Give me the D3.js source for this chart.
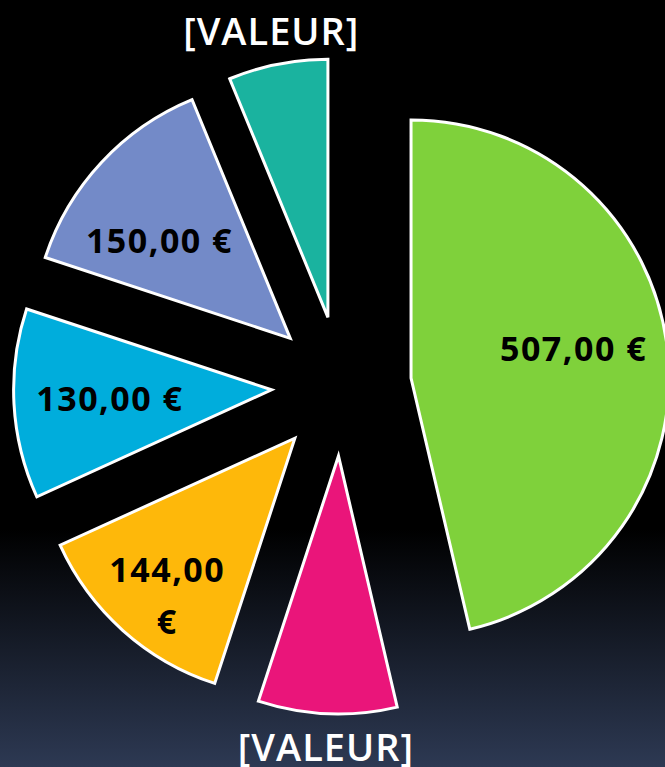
<!DOCTYPE html>
<html>
<head>
<meta charset="utf-8">
<script src="https://cdn.jsdelivr.net/npm/d3@7"></script>
<style>
  html, body { margin: 0; padding: 0; background: #000; }
  #chart { width: 665px; height: 767px; }
  .slice-label { font-family: "Open Sans", sans-serif; font-weight: 700; fill: #000; letter-spacing: 1.5px; }
  .outer-label { font-family: "Open Sans", sans-serif; font-weight: 600; fill: #fff; letter-spacing: 1px; }
</style>
</head>
<body>
<div id="chart"></div>
<script>

// slice data, clockwise from 12 o'clock
var categories = ['A', 'B', 'C', 'D', 'E', 'F'];
var values = [507, 95, 144, 130, 150, 68];
var labels = ['507,00 €', '[VALEUR]', '144,00|€', '130,00 €', '150,00 €', '[VALEUR]'];
var outside = [false, true, false, false, false, true];
var colors = ['#7fd13b', '#ea157a', '#feb80a', '#00addc', '#738ac8', '#1ab39f'];

var width = 665,
    height = 767;

var cx = 341.5, cy = 386;
var radius = 258,
    explode = 70;

var svg = d3.select('#chart')
  .append('svg')
    .attr('width', width)
    .attr('height', height);

// background
var grad = svg.append('defs').append('linearGradient')
    .attr('id', 'bg')
    .attr('x1', 0).attr('y1', 0).attr('x2', 0).attr('y2', 1);
grad.append('stop').attr('offset', '0%').attr('stop-color', '#000');
grad.append('stop').attr('offset', '69%').attr('stop-color', '#000');
grad.append('stop').attr('offset', '100%').attr('stop-color', '#2d3953');

svg.append('rect')
    .attr('width', width)
    .attr('height', height)
    .style('fill', 'url(#bg)');

var pie = d3.pie().sort(null).value(function(d) { return d; });
var arcs = pie(values);

var arc = d3.arc().innerRadius(0).outerRadius(radius);

// where each slice is pushed to
function offset(d, r) {
  var a = (d.startAngle + d.endAngle) / 2;
  return [Math.sin(a) * r, -Math.cos(a) * r];
}

var g = svg.append('g')
    .attr('transform', 'translate(' + cx + ',' + cy + ')');

var slice = g.selectAll('.slice')
    .data(arcs)
    .enter()
    .append('g')
    .attr('class', 'slice')
    .attr('transform', function(d) { return 'translate(' + offset(d, explode) + ')'; });

slice.append('path')
    .attr('d', arc)
    .style('fill', function(d, i) { return colors[i]; })
    .style('stroke', '#fff')
    .style('stroke-width', 3)
    .style('stroke-linejoin', 'miter');

// labels inside the slices
var labelR = [165, 0, 203, 162, 163, 0];
var labelTurn = [-0.06, 0, -0.05, 0, -0.11, 0];

slice.filter(function(d, i) { return !outside[i]; })
  .append('text')
    .attr('class', 'slice-label')
    .attr('text-anchor', 'middle')
    .style('font-size', '34px')
    .attr('transform', function(d) {
      var i = d.index;
      var a = (d.startAngle + d.endAngle) / 2 + labelTurn[i];
      return 'translate(' + [Math.sin(a) * labelR[i], -Math.cos(a) * labelR[i]] + ')';
    })
    .each(function(d) {
      var lines = labels[d.index].split('|');
      var t = d3.select(this);
      lines.forEach(function(l, k) {
        t.append('tspan')
          .attr('x', 0)
          .attr('dy', k === 0 ? (0.35 - (lines.length - 1) * 0.76) + 'em' : '1.52em')
          .text(l);
      });
    });

// labels outside
slice.filter(function(d, i) { return outside[i]; })
  .append('text')
    .attr('class', 'outer-label')
    .attr('text-anchor', 'middle')
    .attr('dy', '0.36em')
    .style('font-size', '38px')
    .attr('transform', function(d) { return 'translate(' + offset(d, radius + 34) + ')'; })
    .text(function(d) { return labels[d.index]; });

</script>
</body>
</html>
